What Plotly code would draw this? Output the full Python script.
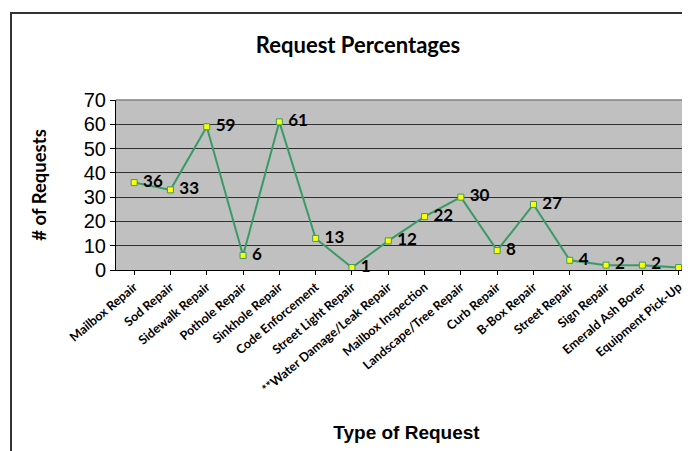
import plotly.graph_objects as go

categories = ["Mailbox Repair", "Sod Repair", "Sidewalk Repair", "Pothole Repair",
              "Sinkhole Repair", "Code Enforcement", "Street Light Repair",
              "**Water Damage/Leak Repair", "Mailbox Inspection", "Landscape/Tree Repair",
              "Curb Repair", "B-Box Repair", "Street Repair", "Sign Repair",
              "Emerald Ash Borer", "Equipment Pick-Up"]
requests = [36, 33, 59, 6, 61, 13, 1, 12, 22, 30, 8, 27, 4, 2, 2, 1]
y_ticks = [0, 10, 20, 30, 40, 50, 60, 70]

# the page body has an ~8px default margin; layout is compensated for it
OFF = 8
W, H = 690, 451
L, R, T, B = 116 - OFF, 1, 100 - OFF, H - (270 - OFF)
pw, ph = W - L - R, H - T - B

fig = go.Figure()
fig.add_trace(go.Scatter(
    x=list(range(len(categories))), y=requests,
    mode="lines+markers+text",
    line=dict(color="#3A9A66", width=2),
    marker=dict(symbol="square", size=6, color="#FFFF00",
                line=dict(color="#3A9A66", width=1)),
    text=["\u00a0" + str(v) for v in requests],
    textposition="middle right",
    textfont=dict(family="Lato, Carlito, sans-serif", size=17, color="#000000", weight="bold"),
    cliponaxis=False,
    hoverinfo="skip",
))

fig.update_layout(
    width=W, height=H,
    margin=dict(l=L, r=R, t=T, b=B, pad=0, autoexpand=False),
    paper_bgcolor="#FFFFFF",
    plot_bgcolor="#C0C0C0",
    showlegend=False,
    title=dict(text="<b>Request Percentages</b>", x=(358 - OFF) / W, xanchor="center",
               y=1 - (45 - OFF) / H, yanchor="middle",
               font=dict(family="Lato, Carlito, sans-serif", size=22, color="#000000")),
    xaxis=dict(
        automargin=False,
        range=[-0.5, -0.5 + pw / 36.3],
        tickmode="array",
        tickvals=list(range(len(categories))),
        ticktext=["<b>" + c + "</b>" for c in categories],
        tickangle=-40,
        tickfont=dict(family="Lato, Carlito, sans-serif", size=12.5, color="#000000"),
        ticks="outside", ticklen=4, tickcolor="#000000", tickson="boundaries",
        showline=True, linecolor="#000000", linewidth=1,
        showgrid=False, zeroline=False,
        title=dict(text="<b>Type of Request</b>", standoff=30,
                   font=dict(family="Liberation Sans, Arial, sans-serif", size=19, color="#000000")),
    ),
    yaxis=dict(
        automargin=False,
        range=[0, 70],
        tickmode="array", tickvals=y_ticks,
        tickfont=dict(family="Liberation Sans, Arial, sans-serif", size=20, color="#000000"),
        ticks="outside", ticklen=5, tickcolor="#000000",
        showline=True, linecolor="#000000", linewidth=1,
        showgrid=True, gridcolor="#303030", gridwidth=1,
        zeroline=False,
        title=dict(text="<b># of Requests</b>", standoff=32,
                   font=dict(family="Lato, Carlito, sans-serif", size=18.5, color="#000000")),
    ),
)

# top border of plot area
fig.add_shape(type="line", xref="paper", yref="paper", x0=0, x1=1, y0=1, y1=1,
              line=dict(color="#808080", width=1.5))
# outer chart border
fig.add_shape(type="rect", xref="paper", yref="paper",
              x0=(11 - OFF - L) / pw, x1=1.1, y0=-1.5, y1=(H - B - (13 - OFF)) / ph,
              line=dict(color="#333333", width=2), fillcolor="rgba(0,0,0,0)", layer="below")

fig.write_html("out.html")
